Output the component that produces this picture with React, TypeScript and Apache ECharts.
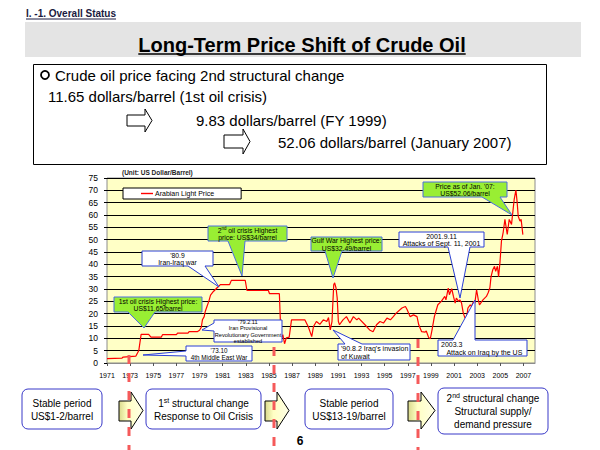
import React, { useEffect, useRef } from 'react';
import * as echarts from 'echarts';

const FF = '"Liberation Sans", Arial, Helvetica, sans-serif';

// ---------- data ----------
const firstYear = 1971;
const seriesName = 'Arabian Light Price';
const years = [
  1971.0, 1972.3, 1972.4, 1973.5, 1973.75, 1973.95, 1974.6, 1974.8, 1975.7, 1975.8,
  1977.0, 1977.1, 1978.0, 1978.1, 1978.8, 1979.0, 1979.15, 1979.25, 1979.4, 1979.5,
  1979.65, 1979.8, 1979.95, 1980.2, 1980.5, 1980.8, 1981.6, 1981.75, 1982.95, 1983.1,
  1984.95, 1985.05, 1985.9, 1986.05, 1986.2, 1986.35, 1986.5, 1986.75, 1986.95, 1988.1,
  1988.4, 1988.7, 1988.85, 1989.1, 1989.4, 1989.7, 1990.0, 1990.15, 1990.3, 1990.45,
  1990.6, 1990.68, 1990.8, 1990.9, 1991.0, 1991.1, 1991.4, 1991.7, 1992.0, 1992.3,
  1992.6, 1992.75, 1993.3, 1993.7, 1994.0, 1994.3, 1994.6, 1994.9, 1995.2, 1995.5,
  1995.75, 1996.0, 1996.5, 1996.8, 1996.95, 1997.2, 1997.5, 1997.8, 1997.95, 1998.2,
  1998.5, 1998.6, 1998.8, 1998.95, 1999.1, 1999.3, 1999.6, 1999.9, 2000.2, 2000.3,
  2000.5, 2000.6, 2000.8, 2000.95, 2001.1, 2001.2, 2001.4, 2001.5, 2001.65, 2001.8,
  2001.95, 2002.1, 2002.2, 2002.4, 2002.5, 2002.7, 2002.8, 2002.95, 2003.1, 2003.2,
  2003.5, 2003.8, 2003.95, 2004.1, 2004.2, 2004.35, 2004.5, 2004.6, 2004.75, 2004.85,
  2004.97, 2005.1, 2005.25, 2005.4, 2005.6, 2005.77, 2005.97, 2006.2, 2006.35, 2006.46,
  2006.55, 2006.7, 2006.8, 2006.95,
];
const prices = [
  1.8, 2.0, 2.4, 2.8, 5.1, 11.6, 11.6, 10.5, 10.5, 11.5,
  11.5, 12.1, 12.1, 12.7, 12.7, 13.3, 14.5, 17.5, 18.8, 21.0,
  23.0, 25.0, 27.5, 29.0, 30.4, 31.8, 31.8, 33.5, 33.5, 29.4,
  29.4, 28.1, 28.1, 9.4, 11.5, 7.8, 10.2, 10.5, 17.5, 17.5,
  14.7, 10.7, 14.8, 16.8, 15.7, 17.5, 16.8, 18.4, 13.4, 16.8,
  31.7, 32.49, 30.4, 26.3, 16.8, 15.5, 17.5, 18.8, 16.2, 18.8,
  17.5, 18.2, 15.5, 13.4, 12.7, 15.5, 16.8, 16.2, 18.2, 17.5,
  18.8, 20.2, 22.3, 22.9, 21.6, 18.8, 19.5, 18.8, 15.5, 12.7,
  12.5, 13.0, 10.4, 9.83, 13.4, 18.8, 23.6, 25.0, 27.0, 25.6,
  30.4, 27.7, 30.1, 27.0, 24.3, 26.3, 25.0, 25.6, 24.3, 20.2,
  18.2, 18.8, 22.3, 23.6, 22.9, 25.0, 24.3, 29.7, 25.6, 23.6,
  25.6, 27.0, 28.5, 30.5, 35.0, 37.8, 39.2, 37.2, 39.2, 35.0,
  40.7, 49.4, 53.0, 58.2, 52.1, 58.2, 56.2, 66.3, 70.1, 65.0,
  59.5, 57.5, 58.2, 52.06,
];
const yMin = 0;
const yMax = 75;
const yStep = 5;
const xSpanYears = 37;
const xLabelStep = 2;

const pageHeader = 'I. -1. Overall Status';
const pageTitle = 'Long-Term Price Shift of Crude Oil';
const summaryLines = [
  'Crude oil price facing 2nd structural change',
  '11.65 dollars/barrel (1st oil crisis)',
  '9.83 dollars/barrel (FY 1999)',
  '52.06 dollars/barrel (January 2007)',
];
const unitLabel = '(Unit: US Dollar/Barrel)';
const pageNumber = '6';

const GREEN = '#99EE33';
const BLUE = '#2B3FD6';

type Callout = {
  box: number[];
  fill: string;
  side: 'bottom' | 'left' | 'top';
  base: number[];
  tip: number[];
  text: string;
  align?: 'left' | 'center';
  fs?: number;
  rich?: boolean;
};

const callouts: Callout[] = [
  { box: [208, 226, 287, 241], fill: GREEN, side: 'bottom', base: [228, 245], tip: [242, 276],
    text: '{s|2}{u|nd}{s| oil crisis Highest}\n{s|price: US$34/barrel}', rich: true },
  { box: [142, 251, 213, 266], fill: '#fff', side: 'bottom', base: [188, 205], tip: [219, 287],
    text: "'80.9\nIran-Iraq war" },
  { box: [114, 297, 202, 312], fill: GREEN, side: 'bottom', base: [128, 155], tip: [144, 328],
    text: '1st oil crisis Highest price:\nUS$11.65/barrel' },
  { box: [214, 320, 282, 342], fill: '#fff', side: 'left', base: [323, 331], tip: [202, 330],
    text: "'79.2.11\nIran Provisional\nRevolutionary Government\nestablished", fs: 5.6 },
  { box: [186, 346, 252, 361], fill: '#fff', side: 'left', base: [351, 356], tip: [143, 355],
    text: "'73.10\n4th Middle East War", fs: 6.3 },
  { box: [311, 237, 382, 251], fill: GREEN, side: 'bottom', base: [325, 342], tip: [333, 278],
    text: 'Gulf War Highest price:\nUS$32.49/barrel' },
  { box: [399, 232, 484, 247], fill: '#fff', side: 'bottom', base: [448, 470], tip: [460, 298],
    text: '2001.9.11\nAttacks of Sept. 11, 2001', fs: 7 },
  { box: [423, 182, 507, 197], fill: GREEN, side: 'bottom', base: [482, 500], tip: [512, 215],
    text: "Price as of Jan. '07:\nUS$52.06/barrel" },
  { box: [338, 344, 410, 360], fill: '#fff', side: 'top', base: [345, 362], tip: [333, 330],
    text: "'90.8.2 Iraq's invasion\nof Kuwait", align: 'left', fs: 7 },
  { box: [438, 340, 527, 356], fill: '#fff', side: 'top', base: [453, 475], tip: [475, 300],
    text: '2003.3\n   Attack on Iraq by the US', align: 'left', fs: 7 },
];

type StageBox = { box: number[]; lines: string[]; richFirst?: string };
const stageBoxes: StageBox[] = [
  { box: [22, 389, 102, 429], lines: ['Stable period', 'US$1-2/barrel'] },
  { box: [146, 389, 261, 429], lines: ['{n|1}{s|st}{n| structural change}', '{n|Response to Oil Crisis}'] },
  { box: [305, 389, 393, 429], lines: ['Stable period', 'US$13-19/barrel'] },
  { box: [438, 388, 548, 434], lines: ['{n|2}{s|nd}{n| structural change}', '{n|Structural supply/}', '{n|demand pressure}'] },
];
const stageArrows = [
  [119, 131, 143],
  [265, 277, 289],
  [408, 421, 435],
];
const dashedLines = [
  [129, 355],
  [274, 347],
  [418, 339],
];

function measure(text: string, font: string): number {
  const c = document.createElement('canvas').getContext('2d');
  if (!c) return text.length * 8;
  c.font = font;
  return c.measureText(text).width;
}

function calloutPoints(c: Callout): number[][] {
  const [x1, y1, x2, y2] = c.box;
  const [a, b] = c.base;
  if (c.side === 'bottom') {
    return [[x1, y1], [x2, y1], [x2, y2], [b, y2], c.tip, [a, y2], [x1, y2]];
  }
  if (c.side === 'left') {
    return [[x1, y1], [x2, y1], [x2, y2], [x1, y2], [x1, b], c.tip, [x1, a]];
  }
  return [[x1, y1], [a, y1], c.tip, [b, y1], [x2, y1], [x2, y2], [x1, y2]];
}

function buildGraphics(): any[] {
  const g: any[] = [];
  const Z = 50;
  // header
  const hFont = `bold 10px ${FF}`;
  g.push({ type: 'text', z: Z, x: 26, y: 13.5,
    style: { text: pageHeader, font: hFont, fill: '#1a1a40', textAlign: 'left', textVerticalAlign: 'middle' } });
  const hw = measure(pageHeader, hFont);
  g.push({ type: 'line', z: Z, shape: { x1: 26, y1: 19, x2: 26 + hw, y2: 19 }, style: { stroke: '#1a1a40', lineWidth: 1 } });

  // title band
  g.push({ type: 'rect', z: Z - 1, shape: { x: 25, y: 22, width: 556, height: 35 }, style: { fill: '#E4E4E4' } });
  const tFont = `bold 20px ${FF}`;
  g.push({ type: 'text', z: Z, x: 302, y: 45,
    style: { text: pageTitle, font: tFont, fill: '#000', textAlign: 'center', textVerticalAlign: 'middle' } });
  const tw = measure(pageTitle, tFont);
  g.push({ type: 'line', z: Z, shape: { x1: 302 - tw / 2, y1: 54, x2: 302 + tw / 2, y2: 54 }, style: { stroke: '#000', lineWidth: 1.5 } });

  // summary box
  g.push({ type: 'rect', z: Z - 1, shape: { x: 33.5, y: 64.5, width: 513, height: 100 }, style: { fill: '#fff', stroke: '#000', lineWidth: 1 } });
  g.push({ type: 'circle', z: Z, shape: { cx: 45, cy: 75, r: 4 }, style: { fill: 'none', stroke: '#000', lineWidth: 1.8 } });
  const sFont = `15px ${FF}`;
  const sPos = [[55, 75], [48, 96], [196, 120], [278, 142]];
  summaryLines.forEach((t, i) => {
    g.push({ type: 'text', z: Z, x: sPos[i][0], y: sPos[i][1],
      style: { text: t, font: sFont, fill: '#000', textAlign: 'left', textVerticalAlign: 'middle' } });
  });
  const outlineArrow = (x0: number, hx: number, tip: number, by1: number, by2: number, hy1: number, hy2: number) => ({
    type: 'polygon', z: Z,
    shape: { points: [[x0, by1], [hx, by1], [hx, hy1], [tip, (hy1 + hy2) / 2], [hx, hy2], [hx, by2], [x0, by2]] },
    style: { fill: '#fff', stroke: '#000', lineWidth: 1 },
  });
  g.push(outlineArrow(127, 145, 152, 115, 126, 109, 132));
  g.push(outlineArrow(224, 243, 250, 135, 148, 129, 154));

  // unit label
  g.push({ type: 'text', z: Z, x: 122, y: 172,
    style: { text: unitLabel, font: `bold 6.5px ${FF}`, fill: '#222', textAlign: 'left', textVerticalAlign: 'middle' } });

  // callouts
  callouts.forEach((c) => {
    const isGreen = c.fill !== '#fff';
    g.push({ type: 'polygon', z: Z, shape: { points: calloutPoints(c) },
      style: { fill: c.fill, stroke: isGreen ? '#4A6FE0' : BLUE, lineWidth: 1 } });
    const [x1, y1, x2, y2] = c.box;
    const fs = c.fs || 6.8;
    const align = c.align || 'center';
    const style: any = {
      text: c.text, fontSize: fs, fontFamily: FF, fill: '#000', lineHeight: fs + 0.6,
      textAlign: align, textVerticalAlign: 'middle',
    };
    if (c.rich) {
      style.rich = {
        s: { fontSize: fs, fontFamily: FF, fill: '#000', lineHeight: fs + 0.6 },
        u: { fontSize: fs * 0.65, fontFamily: FF, fill: '#000', verticalAlign: 'top', lineHeight: fs + 0.6 },
      };
    }
    g.push({ type: 'text', z: Z + 1, x: align === 'center' ? (x1 + x2) / 2 : x1 + 3, y: (y1 + y2) / 2 + 0.5, style });
  });

  // stage boxes
  stageBoxes.forEach((s) => {
    const [x1, y1, x2, y2] = s.box;
    g.push({ type: 'rect', z: Z, shape: { x: x1, y: y1, width: x2 - x1, height: y2 - y1, r: 6 },
      style: { fill: '#fff', stroke: '#3838C8', lineWidth: 1 } });
    g.push({ type: 'text', z: Z + 1, x: (x1 + x2) / 2, y: (y1 + y2) / 2 + 0.5,
      style: {
        text: s.lines.join('\n'), fontSize: 10, fontFamily: FF, fill: '#000', lineHeight: 13,
        textAlign: 'center', textVerticalAlign: 'middle',
        rich: {
          n: { fontSize: 10, fontFamily: FF, fill: '#000', lineHeight: 13 },
          s: { fontSize: 7, fontFamily: FF, fill: '#000', verticalAlign: 'top', lineHeight: 13 },
        },
      } });
  });
  // stage arrows
  stageArrows.forEach(([x0, hx, tip]) => {
    g.push({ type: 'polygon', z: Z,
      shape: { points: [[x0, 401], [hx, 401], [hx, 392], [tip, 410.5], [hx, 429], [hx, 421], [x0, 421]] },
      style: {
        fill: new echarts.graphic.LinearGradient(0, 0, 1, 0, [
          { offset: 0, color: '#D9D98C' },
          { offset: 0.35, color: '#FFFFC4' },
          { offset: 1, color: '#FFFFE6' },
        ]),
        stroke: '#000', lineWidth: 1,
      } });
  });

  // dashed dividers
  dashedLines.forEach(([x, y0]) => {
    g.push({ type: 'line', z: Z + 5, shape: { x1: x, y1: y0, x2: x, y2: 450 },
      style: { stroke: '#F55A5A', lineWidth: 3, lineDash: [9, 9] } });
  });

  g.push({ type: 'text', z: Z, x: 300, y: 441,
    style: { text: pageNumber, font: `bold 12px ${FF}`, fill: '#000', textAlign: 'center', textVerticalAlign: 'middle' } });
  return g;
}

export default function App() {
  const ref = useRef<HTMLDivElement>(null);
  useEffect(() => {
    document.body.style.margin = '0';
    if (!ref.current) return;
    const chart = echarts.init(ref.current, undefined, { renderer: 'svg' });
    const data = years.map((y, i) => [y - firstYear, prices[i]]);
    chart.setOption({
      animation: false,
      backgroundColor: '#fff',
      grid: {
        left: 107, right: 65, top: 178, bottom: 87,
        show: true, backgroundColor: '#FFFFC6', borderColor: '#8C8C8C', borderWidth: 1,
      },
      legend: {
        left: 123, top: 188,
        data: [{ name: seriesName, icon: 'rect' }],
        itemWidth: 12, itemHeight: 1.4, itemGap: 0,
        padding: [2, 27, 2, 18],
        backgroundColor: '#fff', borderColor: '#000', borderWidth: 1,
        textStyle: { fontSize: 7, fontFamily: FF, color: '#000', padding: [0, 0, 0, -3] },
        selectedMode: false,
      },
      xAxis: {
        type: 'value', min: 0, max: xSpanYears, interval: xLabelStep,
        axisLine: { show: true, lineStyle: { color: '#8C8C8C' } },
        axisTick: { show: true, length: 3, lineStyle: { color: '#555' } },
        splitLine: { show: false },
        axisLabel: {
          fontSize: 7, fontFamily: FF, color: '#000', margin: 9, showMaxLabel: false,
          formatter: (v: number) => String(firstYear + v),
        },
      },
      yAxis: {
        type: 'value', min: yMin, max: yMax, interval: yStep,
        axisLine: { show: false },
        axisTick: { show: true, length: 3, lineStyle: { color: '#000' } },
        splitLine: { show: true, lineStyle: { color: '#000', width: 1 } },
        axisLabel: { fontSize: 8.5, fontFamily: FF, color: '#000', margin: 9 },
      },
      series: [{
        name: seriesName, type: 'line', data, showSymbol: false, symbol: 'none',
        lineStyle: { color: '#FF0000', width: 1.2 }, itemStyle: { color: '#FF0000' },
        z: 3,
      }],
      graphic: { elements: buildGraphics() },
    });
    return () => chart.dispose();
  }, []);
  return <div ref={ref} style={{ width: 600, height: 450 }} />;
}
